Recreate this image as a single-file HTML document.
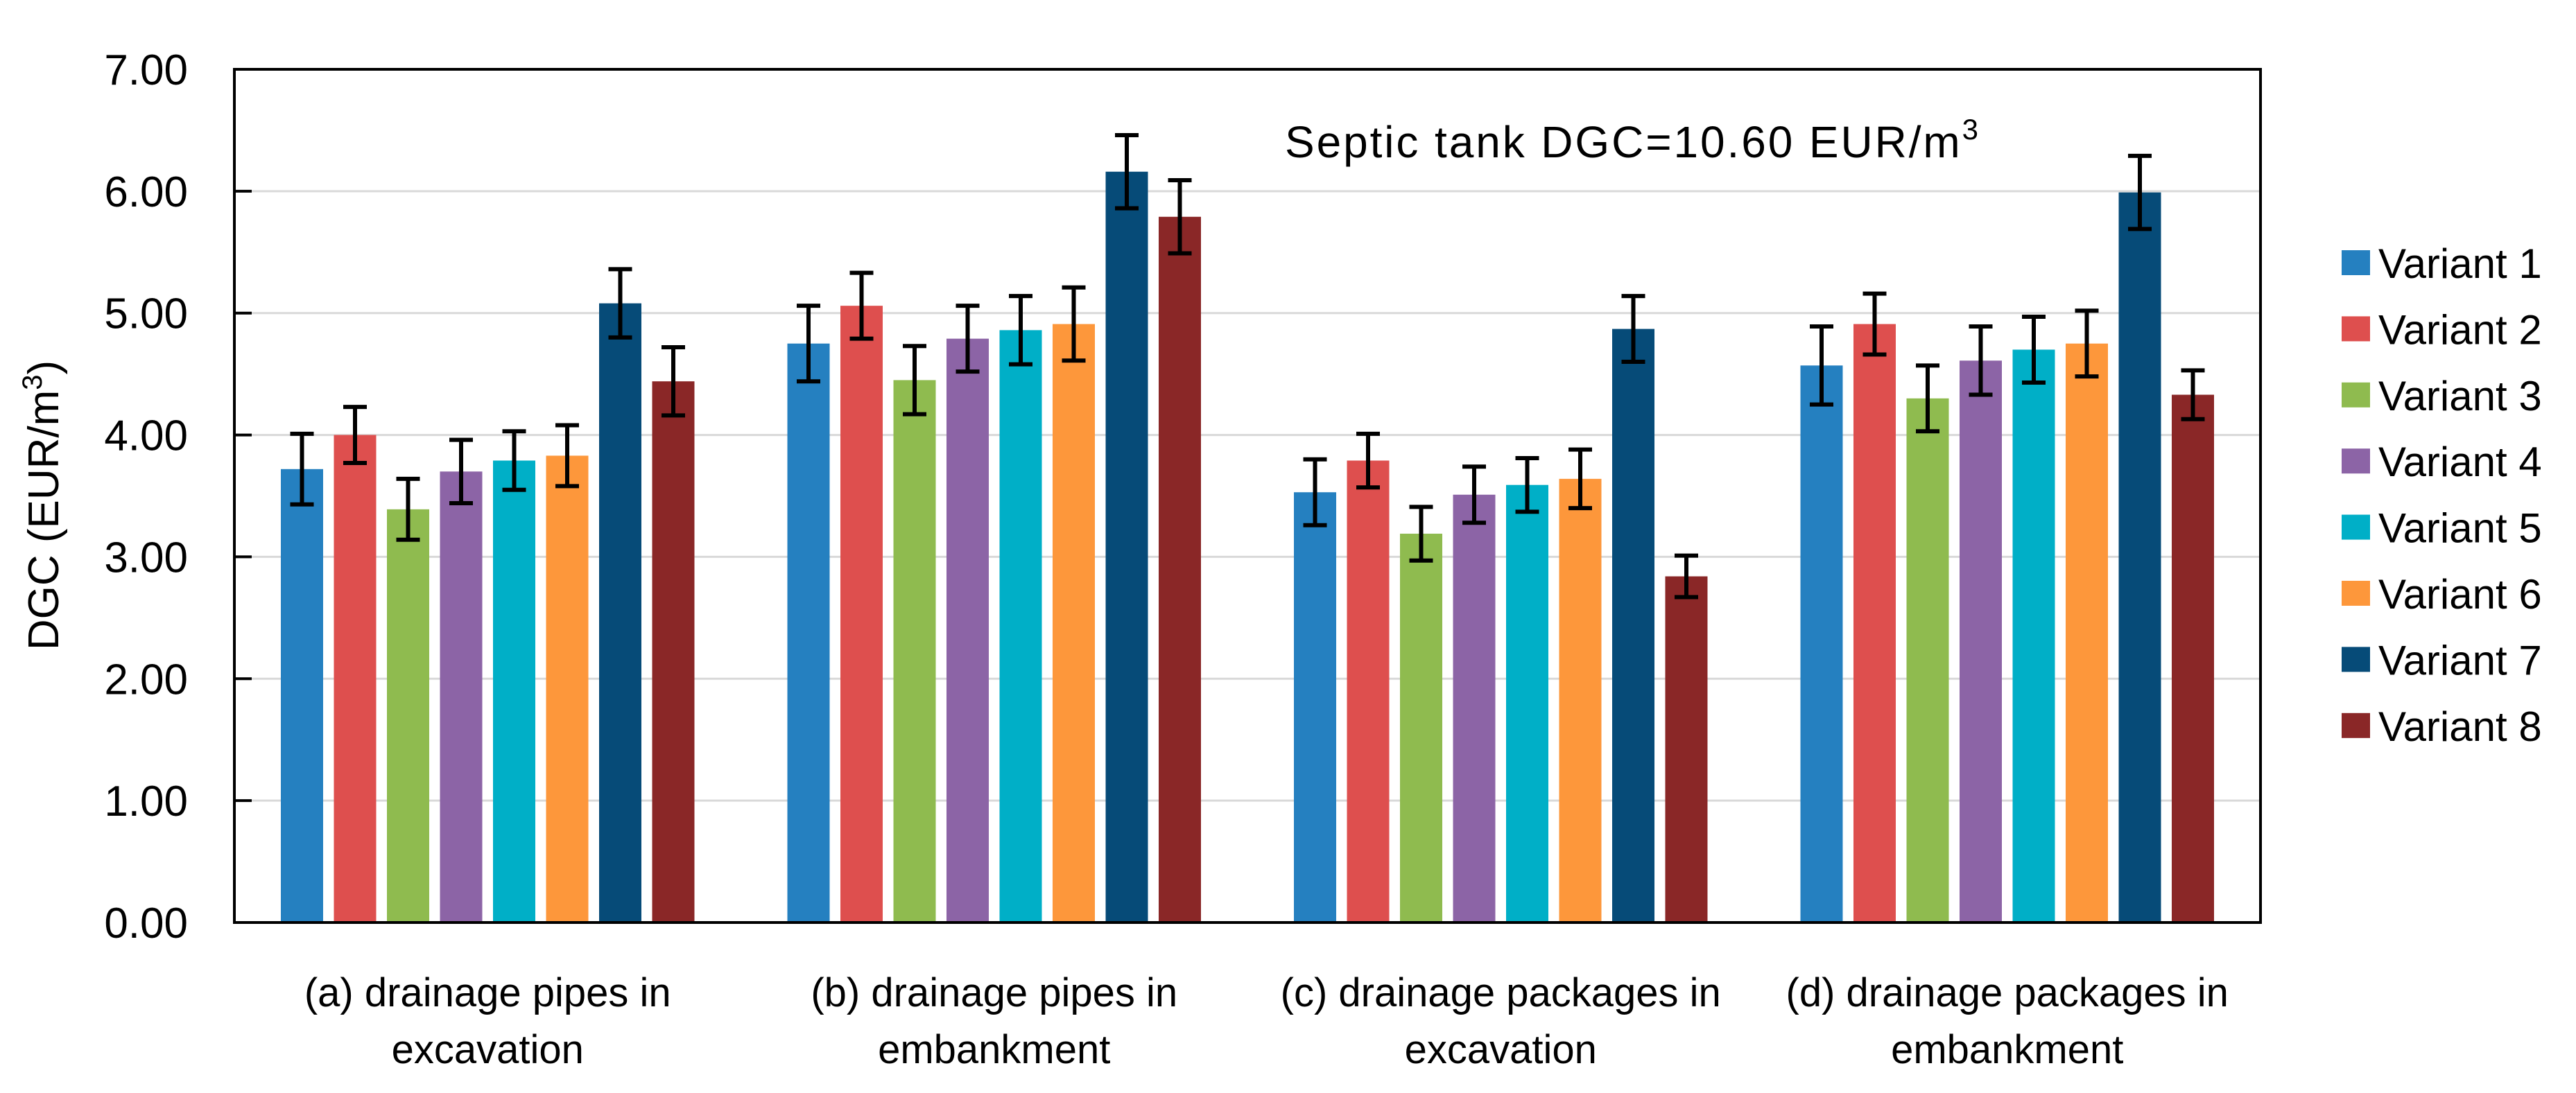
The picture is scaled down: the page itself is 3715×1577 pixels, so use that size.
<!DOCTYPE html>
<html><head><meta charset="utf-8"><style>
html,body{margin:0;padding:0;background:#fff}
svg{display:block;font-family:"Liberation Sans",sans-serif}
</style></head><body>
<svg id="chart" width="3715" height="1577" viewBox="0 0 3715 1577" xmlns="http://www.w3.org/2000/svg">
<g id="grid"></g>
<g id="bars"></g>
<g id="errs"></g>
<rect x="338" y="100" width="2922" height="1231" fill="none" stroke="#000" stroke-width="4"/>
<g id="yticks"></g>
<g id="xlabels"></g>
<text transform="translate(84,729) rotate(-90)" text-anchor="middle" font-size="62" fill="#000">DGC (EUR/m<tspan font-size="40" dy="-24">3</tspan><tspan dy="24">)</tspan></text>
<text x="1853" y="227" font-size="64" fill="#000" textLength="1000">Septic tank DGC=10.60 EUR/m<tspan font-size="42" dy="-26">3</tspan></text>
<g id="legend"></g>
</svg>
<script>
const categories = [["(a) drainage pipes in","excavation"],["(b) drainage pipes in","embankment"],["(c) drainage packages in","excavation"],["(d) drainage packages in","embankment"]];
const seriesNames = ["Variant 1","Variant 2","Variant 3","Variant 4","Variant 5","Variant 6","Variant 7","Variant 8"];
const colors = ["#2580c0","#de4f4e","#8fbb4f","#8c64a6","#00afc7","#fd973b","#064b78","#8a2727"];
const v1 = [3.72,4.75,3.53,4.57];
const v2 = [4.00,5.06,3.79,4.91];
const v3 = [3.39,4.45,3.19,4.30];
const v4 = [3.70,4.79,3.51,4.61];
const v5 = [3.79,4.86,3.59,4.70];
const v6 = [3.83,4.91,3.64,4.75];
const v7 = [5.08,6.16,4.87,5.99];
const v8 = [4.44,5.79,2.84,4.33];
const e1 = [0.29,0.31,0.27,0.32];
const e2 = [0.23,0.27,0.22,0.25];
const e3 = [0.25,0.28,0.22,0.27];
const e4 = [0.26,0.27,0.23,0.28];
const e5 = [0.24,0.28,0.22,0.27];
const e6 = [0.25,0.30,0.24,0.27];
const e7 = [0.28,0.30,0.27,0.30];
const e8 = [0.28,0.30,0.17,0.20];
const yTicks = [0,1,2,3,4,5,6,7];
const yTickLabels = ["0.00","1.00","2.00","3.00","4.00","5.00","6.00","7.00"];

const values=[v1,v2,v3,v4,v5,v6,v7,v8], errors=[e1,e2,e3,e4,e5,e6,e7,e8];
const NS="http://www.w3.org/2000/svg";
const X0=338, X1=3260, Y0=1331, Y1=100, YMAX=7;
const y = v => Y0-(v/YMAX)*(Y0-Y1);
const gw=(X1-X0)/categories.length, pitch=76.5, bw=61;
const xBar=(g,s)=>X0+gw*g+gw/2+(s-3.5)*pitch-bw/2;
function mk(tag,attrs,parent){const e=document.createElementNS(NS,tag);for(const k in attrs)e.setAttribute(k,attrs[k]);parent.appendChild(e);return e;}
const grid=document.getElementById('grid'),yt=document.getElementById('yticks');
yTicks.forEach((t,i)=>{
  if(t>0&&t<YMAX){const l=mk('line',{x1:X0,x2:X1,y1:y(t),y2:y(t),stroke:'#d9d9d9','stroke-width':3},grid);
  
  }
  const tk=mk('line',{x1:X0,x2:X0+25,y1:y(t),y2:y(t),stroke:'#000','stroke-width':4},yt);
  
  
  const tx=mk('text',{x:271,y:y(t)+22,'text-anchor':'end','font-size':62,fill:'#000'},yt);
  tx.textContent=yTickLabels[i];
  
  
});
const bars=document.getElementById('bars'),errs=document.getElementById('errs');
values.forEach((ser,s)=>ser.forEach((v,g)=>{
  const x=xBar(g,s);
  const r=mk('rect',{x:x,y:y(v),width:bw,height:Y0-y(v),fill:colors[s]},bars);
  
  
  const cx=x+bw/2, hi=y(v+errors[s][g]), lo=y(v-errors[s][g]);
  const eg=mk('g',{stroke:'#000','stroke-width':6},errs);
  
  
  mk('line',{x1:cx,x2:cx,y1:hi,y2:lo},eg);
  mk('line',{x1:cx-17,x2:cx+17,y1:hi,y2:hi},eg);
  mk('line',{x1:cx-17,x2:cx+17,y1:lo,y2:lo},eg);
}));
const xl=document.getElementById('xlabels');
categories.forEach((c,g)=>{
  const cx=X0+gw*g+gw/2;
  c.forEach((line,i)=>{
    const t=mk('text',{x:cx,y:1452+i*82,'text-anchor':'middle','font-size':58,fill:'#000'},xl);
    t.textContent=line;
    
    
  });
});
const lg=document.getElementById('legend');
seriesNames.forEach((n,i)=>{
  const cy=379+i*95.4;
  const e=mk('g',{},lg);
  
  
  mk('rect',{x:3377,y:cy-18,width:41,height:36,fill:colors[i]},e);
  const t=mk('text',{x:3430,y:cy+22,'font-size':60,fill:'#000'},e);
  t.textContent=n;
});
</script>
</body></html>
